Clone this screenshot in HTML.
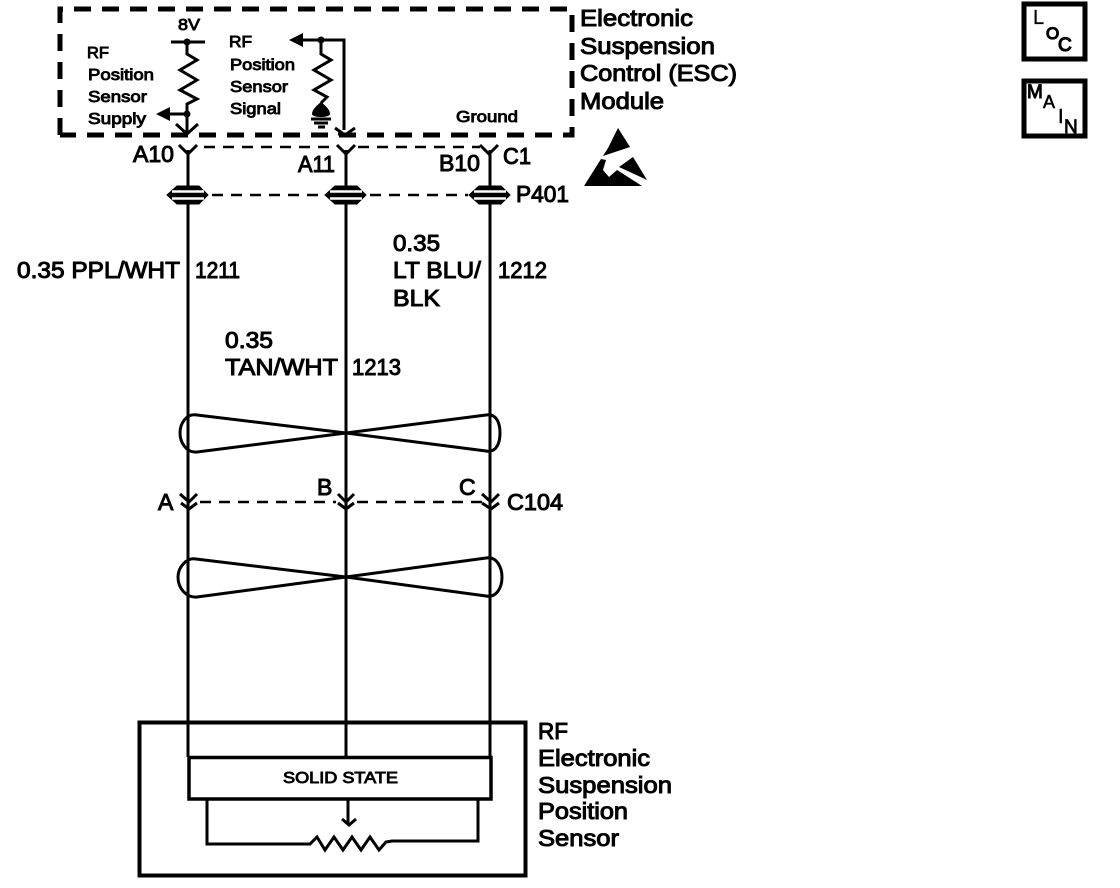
<!DOCTYPE html>
<html><head><meta charset="utf-8"><style>
html,body{margin:0;padding:0;background:#fff;width:1120px;height:888px;overflow:hidden}
svg{display:block}
text{font-family:"Liberation Sans",sans-serif;fill:#000;stroke:#000;stroke-width:1px}
.l{font-size:23px}.s{font-size:16px;stroke-width:.9px}
.w{fill:none;stroke:#000;stroke-width:3}
.t{fill:none;stroke:#000;stroke-width:3}
.d{fill:none;stroke:#000;stroke-width:2.5;stroke-dasharray:11 8}
</style></head><body>
<svg width="1120" height="888" viewBox="0 0 1120 888" xmlns="http://www.w3.org/2000/svg">
<!-- module box -->
<path d="M60 135V9H572V135H60" fill="none" stroke="#000" stroke-width="5" stroke-dasharray="17 11"/>
<!-- supply circuit -->
<path class="t" d="M171 42H205"/>
<circle cx="187" cy="42" r="3.5"/>
<path class="t" d="M187 42V54L197 60L180 70L197 80L180 90L197 99L187 104V133"/>
<path d="M176 124L187 134L198 124" fill="none" stroke="#000" stroke-width="3"/>
<circle cx="187" cy="114" r="3.5"/>
<path class="w" d="M165 114H187"/>
<path d="M156 114L170 107V121Z"/>
<!-- signal circuit -->
<path class="w" d="M298 40H344V130"/>
<path d="M289 40L303 33V47Z"/>
<circle cx="321" cy="40" r="3.5"/>
<path class="t" d="M321 40V54L331 60L314 70L331 80L314 90L327 97L321 103"/>
<path d="M321 102C326 106 330 110 330 114C330 118 312 118 312 114C312 110 316 106 321 102Z"/>
<path class="t" d="M311 119H331M314 123H328M318 127H325"/>
<path d="M335 128L345 135L355 128" fill="none" stroke="#000" stroke-width="3"/>
<path d="M338 134H352" stroke="#000" stroke-width="3"/>
<!-- C1 connector -->
<path class="t" d="M179 145L188 154L197 145M337 145L346 154L355 145M480 145L489 154L498 145"/>
<path class="d" d="M204 147H336M358 147H480" stroke-dasharray="9 6"/>
<!-- wires -->
<path class="w" d="M188 150V757M346 150V757M490 150V757"/>
<!-- P401 -->
<path d="M167 195L177 186H199L208 195L199 204H177Z M325 195L335 186H357L366 195L357 204H335Z M469 195L479 186H501L510 195L501 204H479Z" stroke="#000" stroke-width="1"/>
<path d="M172 191.500H204M172 198.500H204M330 191.500H362M330 198.500H362M474 191.500H506M474 198.500H506" stroke="#fff" stroke-width="2.500"/>
<path class="d" d="M212 195H322M370 195H468" stroke-dasharray="10 8"/>
<!-- top twist -->
<path class="t" d="M197 415L346 433L486 451C497 453 500 442 500 433C500 424 497 413 486 415L346 433L197 452C186 453 180 442 180 433C180 424 186 413 197 415Z"/>
<!-- C104 -->
<path class="t" d="M180 494L189 502L197 494M338 494L346 502L354 494M482 494L491 502L499 494"/>
<path class="t" d="M181 503L189 509L197 503M338 503L346 509L354 503M482 503L491 509L499 503"/>
<path class="d" d="M200 502H336M357 502H482" stroke-dasharray="10 7"/>
<!-- bottom twist -->
<path class="t" d="M196 559L346 577L486 596C497 598 502 587 502 577C502 568 497 556 486 558L346 577L197 597C186 598 178 588 178 577C178 568 186 557 196 559Z"/>
<!-- sensor box -->
<rect x="139.500" y="722.500" width="386" height="153" fill="none" stroke="#000" stroke-width="4"/>
<rect x="189" y="757.500" width="302" height="41.500" fill="#fff" stroke="#000" stroke-width="3.500"/>
<path class="w" d="M207 800V844H310L317 837L325 850L334 837L343 850L352 837L361 850L370 837L379 850L386 842L392 841H478V800"/>
<path class="w" d="M348 800V823"/>
<path d="M342 819L349 825L356 819" fill="none" stroke="#000" stroke-width="3"/>
<!-- ESD symbol -->
<path d="M618 128L630 147L603 156L608 148Z"/>
<path d="M584 186L601 159L606 160L603 170L609 177L617 170L642 186Z"/>
<path d="M633 157L647 180L619 167Z"/>
<!-- LOC MAIN -->
<path d="M1024 4H1085V59H1024Z M1024 81H1085V136H1024Z" fill="none" stroke="#000" stroke-width="5"/>
<text x="1033" y="24" style="font-size:20px;stroke-width:.3px">L</text>
<text x="1046" y="39" style="font-size:17px;stroke-width:1.200px">O</text>
<text x="1058" y="51" style="font-size:19px;stroke-width:1.200px">C</text>
<text x="1027" y="98" style="font-size:19px;stroke-width:1px">M</text>
<text x="1043" y="108" style="font-size:18px;stroke-width:.6px">A</text>
<text x="1058" y="123" style="font-size:20px;stroke-width:.4px">I</text>
<text x="1064" y="133" style="font-size:19px;stroke-width:.8px">N</text>
<!-- small labels -->
<text class="s" x="178" y="30" textLength="22" lengthAdjust="spacingAndGlyphs">8V</text>
<text class="s" x="87" y="58" textLength="22" lengthAdjust="spacingAndGlyphs">RF</text>
<text class="s" x="88" y="80" textLength="66" lengthAdjust="spacingAndGlyphs">Position</text>
<text class="s" x="88" y="102" textLength="59" lengthAdjust="spacingAndGlyphs">Sensor</text>
<text class="s" x="88" y="124" textLength="58" lengthAdjust="spacingAndGlyphs">Supply</text>
<text class="s" x="229" y="47" textLength="23" lengthAdjust="spacingAndGlyphs">RF</text>
<text class="s" x="230" y="70" textLength="65" lengthAdjust="spacingAndGlyphs">Position</text>
<text class="s" x="230" y="92" textLength="58" lengthAdjust="spacingAndGlyphs">Sensor</text>
<text class="s" x="230" y="114" textLength="51" lengthAdjust="spacingAndGlyphs">Signal</text>
<text class="s" x="456" y="122" textLength="62" lengthAdjust="spacingAndGlyphs">Ground</text>
<text class="s" x="283" y="783" textLength="115" lengthAdjust="spacingAndGlyphs">SOLID STATE</text>
<!-- large labels -->
<text class="l" x="580" y="26" textLength="113" lengthAdjust="spacingAndGlyphs">Electronic</text>
<text class="l" x="580" y="54" textLength="135" lengthAdjust="spacingAndGlyphs">Suspension</text>
<text class="l" x="580" y="81" textLength="157" lengthAdjust="spacingAndGlyphs">Control (ESC)</text>
<text class="l" x="580" y="109" textLength="84" lengthAdjust="spacingAndGlyphs">Module</text>
<text class="l" x="133" y="162" textLength="41" lengthAdjust="spacingAndGlyphs">A10</text>
<text class="l" x="298" y="172" textLength="37" lengthAdjust="spacingAndGlyphs">A11</text>
<text class="l" x="439" y="171" textLength="41" lengthAdjust="spacingAndGlyphs">B10</text>
<text class="l" x="503" y="164" textLength="28" lengthAdjust="spacingAndGlyphs">C1</text>
<text class="l" x="516" y="202" textLength="53" lengthAdjust="spacingAndGlyphs">P401</text>
<text class="l" x="17" y="278" textLength="163" lengthAdjust="spacingAndGlyphs">0.35 PPL/WHT</text>
<text class="l" x="195" y="278" textLength="45" lengthAdjust="spacingAndGlyphs">1211</text>
<text class="l" x="393" y="251" textLength="47" lengthAdjust="spacingAndGlyphs">0.35</text>
<text class="l" x="393" y="278" textLength="88" lengthAdjust="spacingAndGlyphs">LT BLU/</text>
<text class="l" x="393" y="306" textLength="47" lengthAdjust="spacingAndGlyphs">BLK</text>
<text class="l" x="498" y="278" textLength="49" lengthAdjust="spacingAndGlyphs">1212</text>
<text class="l" x="225" y="348" textLength="48" lengthAdjust="spacingAndGlyphs">0.35</text>
<text class="l" x="225" y="375" textLength="113" lengthAdjust="spacingAndGlyphs">TAN/WHT</text>
<text class="l" x="352" y="375" textLength="49" lengthAdjust="spacingAndGlyphs">1213</text>
<text class="l" x="158" y="510">A</text>
<text class="l" x="317" y="495">B</text>
<text class="l" x="459" y="495">C</text>
<text class="l" x="507" y="510" textLength="56" lengthAdjust="spacingAndGlyphs">C104</text>
<text class="l" x="538" y="739" textLength="30" lengthAdjust="spacingAndGlyphs">RF</text>
<text class="l" x="538" y="766" textLength="112" lengthAdjust="spacingAndGlyphs">Electronic</text>
<text class="l" x="538" y="793" textLength="134" lengthAdjust="spacingAndGlyphs">Suspension</text>
<text class="l" x="538" y="819" textLength="90" lengthAdjust="spacingAndGlyphs">Position</text>
<text class="l" x="538" y="846" textLength="81" lengthAdjust="spacingAndGlyphs">Sensor</text>
</svg>
</body></html>
